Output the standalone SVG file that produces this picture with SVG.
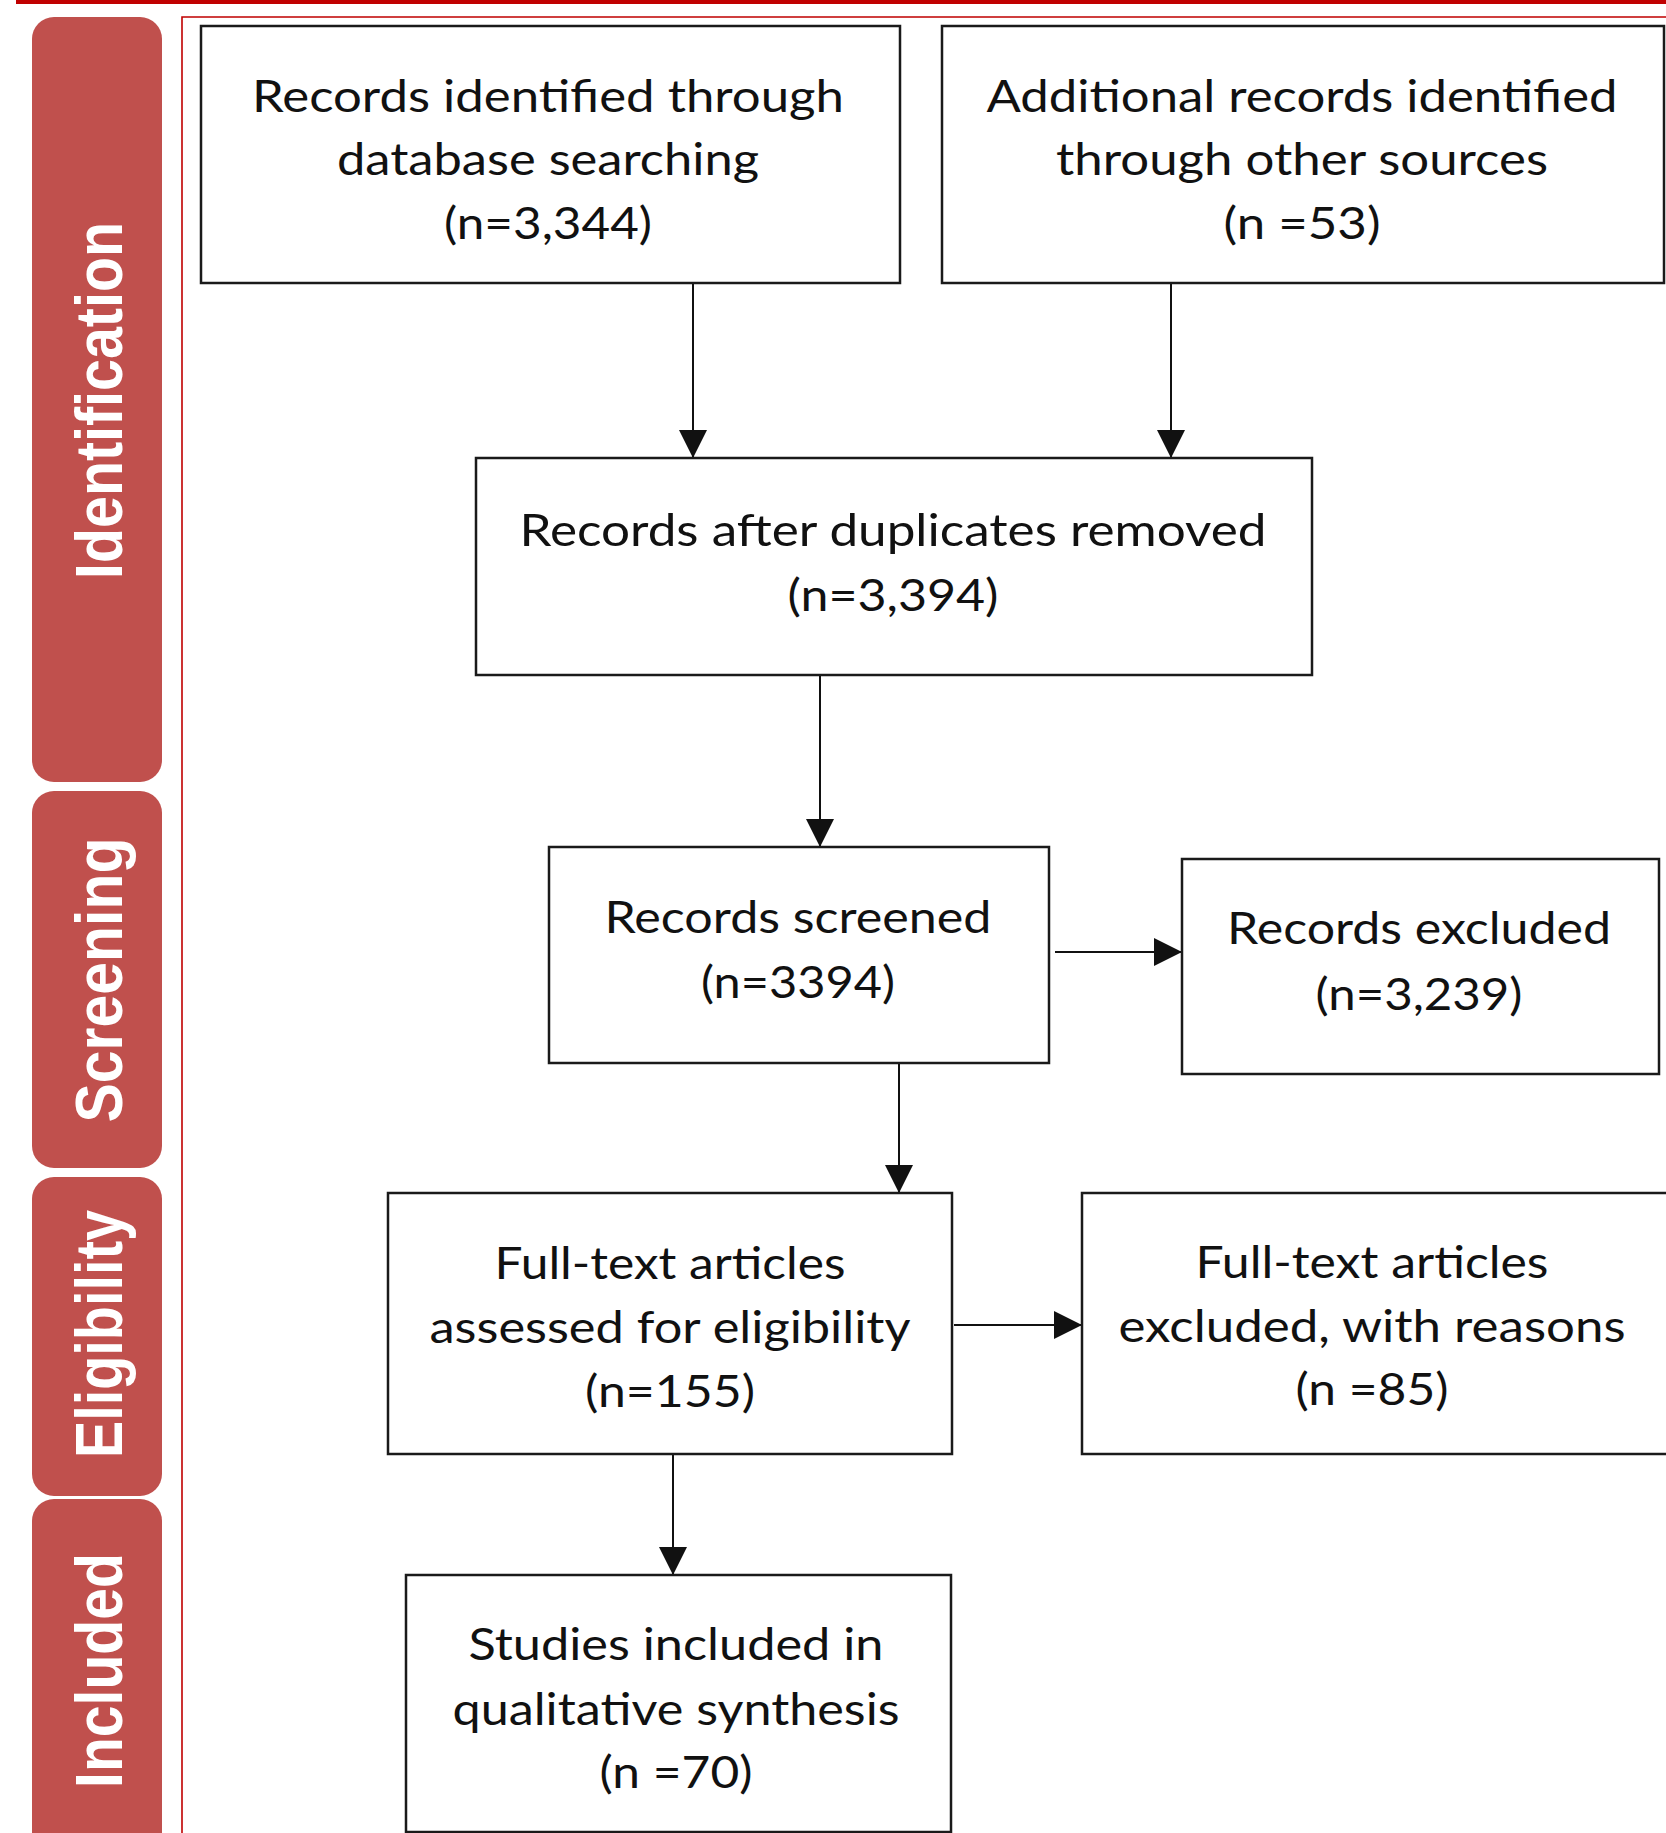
<svg xmlns="http://www.w3.org/2000/svg" width="1666" height="1833" viewBox="0 0 1666 1833">
<style>
.box{fill:#fff;stroke:#1a1a1a;stroke-width:2.5}
.tab{fill:#C0504D}
.tt{font-family:"Liberation Sans",Arial,sans-serif;font-weight:bold;font-size:66px;fill:#fff;text-anchor:middle}
.lbl{font-family:Lato,"Open Sans",sans-serif;font-size:45px;fill:#111;text-anchor:middle}
.con{stroke:#111;stroke-width:2;fill:none;marker-end:url(#ah)}
.red{stroke:#C00000;fill:none}
</style>
<defs>
<marker id="ah" markerUnits="userSpaceOnUse" markerWidth="29" markerHeight="28" refX="28" refY="14" orient="auto">
<path d="M0,0 L28,14 L0,28 z" fill="#111"/>
</marker>
</defs>
<rect width="1666" height="1833" fill="#fff"/>
<g id="frame">
<rect x="16" y="0" width="1650" height="4" fill="#C00000"/>
<path class="red" stroke-width="1.6" d="M1666,17 H182 V1833"/>
</g>
<g id="tab-identification">
<rect class="tab" x="32" y="17" width="130" height="765" rx="22"/>
<text class="tt" transform="translate(122,400.5) rotate(-90)" textLength="357" lengthAdjust="spacingAndGlyphs">Identification</text>
</g>
<g id="tab-screening">
<rect class="tab" x="32" y="791" width="130" height="377" rx="22"/>
<text class="tt" transform="translate(122,980) rotate(-90)" textLength="285" lengthAdjust="spacingAndGlyphs">Screening</text>
</g>
<g id="tab-eligibility">
<rect class="tab" x="32" y="1177" width="130" height="319" rx="22"/>
<text class="tt" transform="translate(122,1334) rotate(-90)" textLength="248" lengthAdjust="spacingAndGlyphs">Eligibility</text>
</g>
<g id="tab-included">
<rect class="tab" x="32" y="1499" width="130" height="380" rx="22"/>
<text class="tt" transform="translate(122,1670.5) rotate(-90)" textLength="235" lengthAdjust="spacingAndGlyphs">Included</text>
</g>
<g id="connectors">
<line class="con" x1="693" y1="284" x2="693" y2="458"/>
<line class="con" x1="1171" y1="284" x2="1171" y2="458"/>
<line class="con" x1="820" y1="676" x2="820" y2="847"/>
<line class="con" x1="1055" y1="952" x2="1182" y2="952"/>
<line class="con" x1="899" y1="1064" x2="899" y2="1193"/>
<line class="con" x1="954" y1="1325" x2="1082" y2="1325"/>
<line class="con" x1="673" y1="1455" x2="673" y2="1575"/>
</g>
<g id="n1">
<rect class="box" x="201" y="26" width="699" height="257"/>
<text class="lbl" x="548" y="112" textLength="592" lengthAdjust="spacingAndGlyphs">Records identified through</text>
<text class="lbl" x="548" y="175" textLength="422" lengthAdjust="spacingAndGlyphs">database searching</text>
<text class="lbl" x="548" y="239" textLength="208" lengthAdjust="spacingAndGlyphs">(n=3,344)</text>
</g>
<g id="n2">
<rect class="box" x="942" y="26" width="722" height="257"/>
<text class="lbl" x="1302" y="112" textLength="631" lengthAdjust="spacingAndGlyphs">Additional records identified</text>
<text class="lbl" x="1302" y="175" textLength="492" lengthAdjust="spacingAndGlyphs">through other sources</text>
<text class="lbl" x="1302" y="239" textLength="157" lengthAdjust="spacingAndGlyphs">(n =53)</text>
</g>
<g id="n3">
<rect class="box" x="476" y="458" width="836" height="217"/>
<text class="lbl" x="893" y="546" textLength="747" lengthAdjust="spacingAndGlyphs">Records after duplicates removed</text>
<text class="lbl" x="893" y="611" textLength="211" lengthAdjust="spacingAndGlyphs">(n=3,394)</text>
</g>
<g id="n4">
<rect class="box" x="549" y="847" width="500" height="216"/>
<text class="lbl" x="798" y="933" textLength="387" lengthAdjust="spacingAndGlyphs">Records screened</text>
<text class="lbl" x="798" y="998" textLength="194" lengthAdjust="spacingAndGlyphs">(n=3394)</text>
</g>
<g id="n5">
<rect class="box" x="1182" y="859" width="477" height="215"/>
<text class="lbl" x="1419" y="944" textLength="384" lengthAdjust="spacingAndGlyphs">Records excluded</text>
<text class="lbl" x="1419" y="1010" textLength="207" lengthAdjust="spacingAndGlyphs">(n=3,239)</text>
</g>
<g id="n6">
<rect class="box" x="388" y="1193" width="564" height="261"/>
<text class="lbl" x="670" y="1279" textLength="351" lengthAdjust="spacingAndGlyphs">Full-text articles</text>
<text class="lbl" x="670" y="1343" textLength="481" lengthAdjust="spacingAndGlyphs">assessed for eligibility</text>
<text class="lbl" x="670" y="1407" textLength="170" lengthAdjust="spacingAndGlyphs">(n=155)</text>
</g>
<g id="n7">
<rect class="box" x="1082" y="1193" width="600" height="261"/>
<text class="lbl" x="1372" y="1278" textLength="353" lengthAdjust="spacingAndGlyphs">Full-text articles</text>
<text class="lbl" x="1372" y="1342" textLength="507" lengthAdjust="spacingAndGlyphs">excluded, with reasons</text>
<text class="lbl" x="1372" y="1405" textLength="153" lengthAdjust="spacingAndGlyphs">(n =85)</text>
</g>
<g id="n8">
<rect class="box" x="406" y="1575" width="545" height="257"/>
<text class="lbl" x="676" y="1660" textLength="415" lengthAdjust="spacingAndGlyphs">Studies included in</text>
<text class="lbl" x="676" y="1725" textLength="447" lengthAdjust="spacingAndGlyphs">qualitative synthesis</text>
<text class="lbl" x="676" y="1788" textLength="153" lengthAdjust="spacingAndGlyphs">(n =70)</text>
</g>
</svg>
